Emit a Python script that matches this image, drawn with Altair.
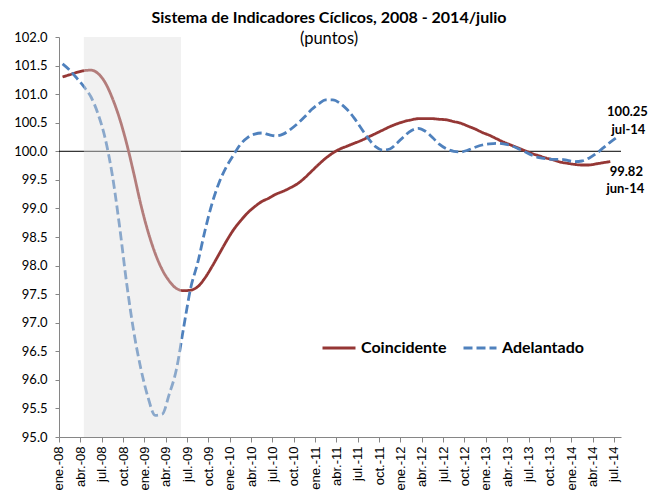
import json
import altair as alt
import pandas as pd

# ---------------- data ----------------
tick_labels = [
    "ene.-08", "abr.-08", "jul.-08", "oct.-08",
    "ene.-09", "abr.-09", "jul.-09", "oct.-09",
    "ene.-10", "abr.-10", "jul.-10", "oct.-10",
    "ene.-11", "abr.-11", "jul.-11", "oct.-11",
    "ene.-12", "abr.-12", "jul.-12", "oct.-12",
    "ene.-13", "abr.-13", "jul.-13", "oct.-13",
    "ene.-14", "abr.-14", "jul.-14",
]

# monthly values, ene-08 .. jun-14
coincidente = [
    101.30, 101.34, 101.38, 101.41, 101.42, 101.36, 101.20, 100.93, 100.58, 100.14,
    99.62, 99.07, 98.60, 98.22, 97.93, 97.73, 97.60, 97.56, 97.57, 97.63,
    97.78, 97.98, 98.20, 98.42, 98.62, 98.78, 98.92, 99.03, 99.12, 99.18,
    99.25, 99.30, 99.36, 99.43, 99.53, 99.65, 99.77, 99.88, 99.97, 100.04,
    100.09, 100.14, 100.19, 100.25, 100.31, 100.37, 100.43, 100.48, 100.52, 100.55,
    100.57, 100.57, 100.57, 100.56, 100.55, 100.52, 100.49, 100.44, 100.39, 100.33,
    100.28, 100.22, 100.16, 100.11, 100.06, 100.01, 99.96, 99.92, 99.88, 99.85,
    99.81, 99.79, 99.77, 99.76, 99.76, 99.78, 99.80, 99.82,
]

# monthly values, ene-08 .. jul-14
adelantado = [
    101.53, 101.42, 101.28, 101.13, 100.95, 100.65, 100.22, 99.58, 98.70, 97.70,
    96.85, 96.20, 95.70, 95.38, 95.40, 95.75, 96.18, 96.90, 97.60, 98.05,
    98.60, 99.08, 99.45, 99.72, 99.93, 100.12, 100.24, 100.30, 100.32, 100.29,
    100.27, 100.30, 100.38, 100.48, 100.60, 100.73, 100.83, 100.90, 100.90, 100.84,
    100.73, 100.58, 100.40, 100.22, 100.08, 100.02, 100.04, 100.14, 100.26, 100.36,
    100.40, 100.35, 100.24, 100.12, 100.04, 100.00, 99.99, 100.02, 100.07, 100.11,
    100.13, 100.14, 100.13, 100.10, 100.05, 99.99, 99.93, 99.89, 99.87, 99.86,
    99.86, 99.84, 99.82, 99.83, 99.88, 99.96, 100.06, 100.16, 100.25,
]

series_names = ["Coincidente", "Adelantado"]
series_colors = ["#953735", "#4F81BD"]

shade_start = [3.0]      # month index (abr-08)
shade_end = [16.65]      # month index (~jun-09)
reference_level = [100.0]

end_points = [
    {"idx": 78, "v": 100.25, "val": "100.25", "mes": "jul-14", "serie": "Adelantado"},
    {"idx": 77, "v": 99.82, "val": "99.82", "mes": "jun-14", "serie": "Coincidente"},
]

# ---------------- frames ----------------
rows = []
for i, v in enumerate(coincidente):
    rows.append({"idx": i, "v": v, "serie": "Coincidente"})
for i, v in enumerate(adelantado):
    rows.append({"idx": i, "v": v, "serie": "Adelantado"})
df = pd.DataFrame(rows)
shade_df = pd.DataFrame({"x0": shade_start, "x1": shade_end, "y0": [95.0], "y1": [102.0]})
ref_df = pd.DataFrame({"y": reference_level})
end_df = pd.DataFrame(end_points)

W, H = 562, 400
xscale = alt.Scale(domain=[-0.5, 78.5], nice=False, zero=False)
yscale = alt.Scale(domain=[95, 102], nice=False, zero=False)

label_expr = json.dumps(tick_labels) + "[round(datum.value / 3)]"

x_axis = alt.Axis(
    values=list(range(0, 79, 3)), labelExpr=label_expr, labelAngle=-90,
    title=None, grid=False, tickSize=5, tickOffset=-3.56, labelPadding=4,
    labelOverlap=False, labelFont="Liberation Sans", labelFontSize=13,
    labelColor="#000000", domainColor="#868686", tickColor="#868686",
)
y_axis = alt.Axis(
    values=[95 + 0.5 * k for k in range(15)], format=".1f", title=None, grid=False,
    labelOverlap=False, tickSize=4, labelPadding=8, labelFont="Lato", labelFontSize=13,
    labelColor="#000000", domainColor="#868686", tickColor="#868686",
)

rule = alt.Chart(ref_df).mark_rule(color="#000000", strokeWidth=1).encode(
    y=alt.Y("y:Q", scale=yscale, axis=y_axis)
)

lines = alt.Chart(df).mark_line(strokeWidth=2.8, interpolate="monotone").encode(
    x=alt.X("idx:Q", scale=xscale, axis=x_axis),
    y=alt.Y("v:Q", scale=yscale, axis=y_axis),
    color=alt.Color(
        "serie:N",
        scale=alt.Scale(domain=series_names, range=series_colors),
        legend=alt.Legend(
            title=None, orient="none", direction="horizontal",
            legendX=262, legendY=293, symbolType="stroke", symbolSize=1089,
            symbolStrokeWidth=3, labelFont="Lato", labelFontSize=16,
            labelFontWeight="bold", labelColor="#000000", labelOffset=4,
            columnPadding=10, padding=0,
        ),
    ),
    strokeDash=alt.StrokeDash(
        "serie:N",
        scale=alt.Scale(domain=series_names, range=[[1, 0], [9, 4]]),
        legend=None,
    ),
    order=alt.Order("idx:Q"),
)

shade = alt.Chart(shade_df).mark_rect(color="#dedede", opacity=0.42).encode(
    x=alt.X("x0:Q", scale=xscale, axis=x_axis), x2="x1:Q",
    y=alt.Y("y0:Q", scale=yscale, axis=y_axis), y2="y1:Q",
)

ad_end = end_df[end_df.serie == "Adelantado"]
co_end = end_df[end_df.serie == "Coincidente"]

def end_text(frame, field, dx, dy):
    return alt.Chart(frame).mark_text(
        font="Lato", fontSize=13, fontWeight="bold", color="#000000", dx=dx, dy=dy
    ).encode(
        x=alt.X("idx:Q", scale=xscale, axis=x_axis),
        y=alt.Y("v:Q", scale=yscale, axis=y_axis),
        text=f"{field}:N",
    )

texts = (
    end_text(ad_end, "val", 10, -25)
    + end_text(ad_end, "mes", 11, -7)
    + end_text(co_end, "val", 16, 10)
    + end_text(co_end, "mes", 15, 27)
)

chart = alt.layer(rule, lines, shade, texts).properties(
    width=W, height=H,
    padding={"left": 5, "top": 1, "right": 2, "bottom": 0},
    title=alt.Title(
        "Sistema de Indicadores Cíclicos, 2008 - 2014/julio",
        subtitle="(puntos)", font="Lato", fontSize=16, fontWeight="bold",
        color="#000000", subtitleFont="Lato", subtitleFontSize=16.5,
        subtitleColor="#000000", subtitlePadding=5, anchor="middle", dx=-11, offset=-16,
    ),
).configure_view(stroke=None).configure_axis(labelOverlap=False)

chart.save("out.html", embed_options={"renderer": "svg", "actions": False})
